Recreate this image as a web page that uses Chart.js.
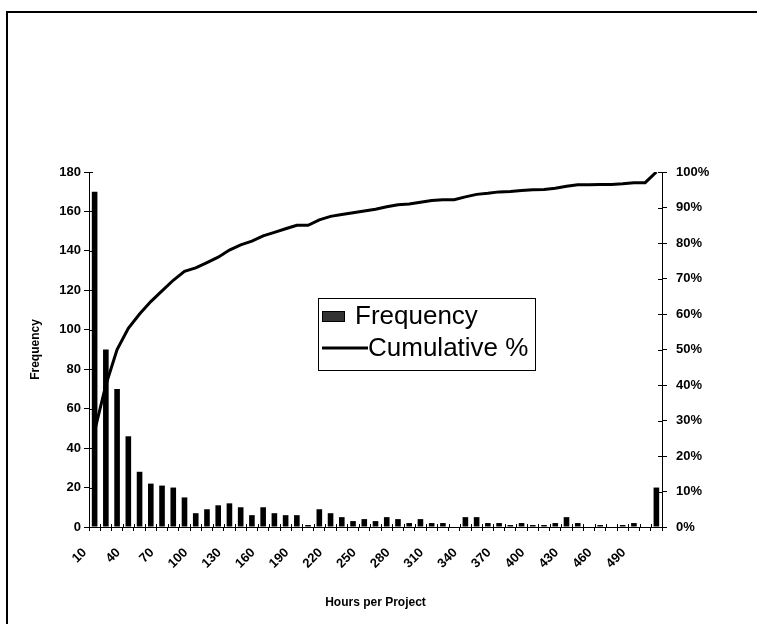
<!DOCTYPE html>
<html><head><meta charset="utf-8">
<script src="https://cdn.jsdelivr.net/npm/chart.js@4/dist/chart.umd.min.js"></script>
<style>
html,body{margin:0;padding:0;background:#fff;}
#wrap{position:relative;width:757px;height:624px;}
</style></head><body>
<div id="wrap"><canvas id="c"></canvas></div>
<script>
const categories = ['10','20','30','40','50','60','70','80','90','100','110','120','130','140','150','160','170','180','190','200','210','220','230','240','250','260','270','280','290','300','310','320','330','340','350','360','370','380','390','400','410','420','430','440','450','460','470','480','490','500','More'];
const frequency = [170,90,70,46,28,22,21,20,15,7,9,11,12,10,6,10,7,6,6,1,9,7,5,3,4,3,5,4,2,4,2,2,0,5,5,2,2,1,2,1,1,2,5,2,0,1,0,1,2,0,20];
const cumulativePct = [27,40,50,56,60,63.5,66.5,69.5,72,73,74.5,76,78,79.5,80.5,82,83,84,85,85,86.5,87.5,88,88.5,89,89.5,90.2,90.8,91,91.5,92,92.2,92.2,93,93.7,94,94.4,94.5,94.8,95,95.1,95.4,96,96.4,96.4,96.5,96.5,96.7,97,97,100];
const freqTicks = [0,20,40,60,80,100,120,140,160,180];
const pctTicks = [0,10,20,30,40,50,60,70,80,90,100];

const FONT = '"Liberation Sans", Arial, sans-serif';

const decor = {
  id: 'decor',
  beforeDraw(chart) {
    const ctx = chart.ctx;
    ctx.save();
    ctx.strokeStyle = '#000';
    ctx.lineWidth = 2;
    ctx.beginPath();
    ctx.moveTo(7, 624); ctx.lineTo(7, 12); ctx.lineTo(757, 12);
    ctx.stroke();
    ctx.restore();
  },
  afterDraw(chart) {
    const {ctx, chartArea, scales} = chart;
    ctx.save();
    ctx.strokeStyle = '#000';
    ctx.lineWidth = 1;
    scales.y.ticks.forEach((t, i) => {
      const py = Math.round(scales.y.getPixelForTick(i)) + 0.5;
      ctx.beginPath(); ctx.moveTo(chartArea.left, py); ctx.lineTo(chartArea.left + 4, py); ctx.stroke();
    });
    scales.y2.ticks.forEach((t, i) => {
      const py = Math.round(scales.y2.getPixelForTick(i)) + 0.5;
      ctx.beginPath(); ctx.moveTo(chartArea.right, py); ctx.lineTo(chartArea.right - 4, py); ctx.stroke();
    });
    for (let i = 0; i <= categories.length; i++) {
      const px = Math.round(scales.x.getPixelForValue(i - 0.5)) + 0.5;
      ctx.beginPath(); ctx.moveTo(px, chartArea.bottom); ctx.lineTo(px, chartArea.bottom - 3); ctx.stroke();
    }
    const ds = chart.data.datasets;
    ctx.fillStyle = '#fff';
    ctx.fillRect(318, 298, 217, 72);
    ctx.lineWidth = 1;
    ctx.strokeRect(318.5, 298.5, 217, 72);
    ctx.fillStyle = '#333';
    ctx.fillRect(322, 311, 23, 11);
    ctx.strokeRect(322.5, 311.5, 22, 10);
    ctx.fillStyle = '#000';
    ctx.font = '26px ' + FONT;
    ctx.textBaseline = 'middle';
    ctx.textAlign = 'left';
    ctx.fillText(ds[0].label, 355, 317);
    ctx.lineWidth = 3;
    ctx.beginPath(); ctx.moveTo(322, 348); ctx.lineTo(368, 348); ctx.stroke();
    ctx.fillText(ds[1].label, 368, 349);
    ctx.restore();
  }
};

new Chart(document.getElementById('c'), {
  data: {
    labels: categories,
    datasets: [
      { type: 'bar', label: 'Frequency', data: frequency, yAxisID: 'y', backgroundColor: '#000', borderWidth: 0,
        barPercentage: 0.5, categoryPercentage: 1.0, order: 2 },
      { type: 'line', label: 'Cumulative %', data: cumulativePct, yAxisID: 'y2', borderColor: '#000', borderWidth: 3,
        pointRadius: 0, tension: 0, fill: false, order: 1 }
    ]
  },
  options: {
    responsive: true,
    maintainAspectRatio: false,
    animation: false,
    layout: { padding: { top: 172, left: 0, right: 0, bottom: 0 } },
    plugins: { legend: { display: false }, tooltip: { enabled: false } },
    scales: {
      x: {
        grid: { display: true, drawOnChartArea: false, drawTicks: true, tickLength: 4, color: '#000', offset: true },
        border: { display: true, color: '#000', width: 1 },
        ticks: {
          autoSkip: false, maxRotation: 45, minRotation: 45, padding: 14, labelOffset: -10,
          color: '#000', font: { family: FONT, size: 13, weight: 'bold' },
          callback: (v, i) => (i % 3 === 0 && i < 49) ? categories[i] : ''
        },
        title: { display: true, text: 'Hours per Project', color: '#000', font: { family: FONT, size: 12, weight: 'bold' }, padding: { top: 0, bottom: 14 } },
        afterFit: s => { s.height = 97; }
      },
      y: {
        position: 'left', min: 0, max: 180,
        afterBuildTicks: s => { s.ticks = freqTicks.map(v => ({ value: v })); },
        grid: { display: true, drawOnChartArea: false, drawTicks: true, tickLength: 5, color: '#000' },
        border: { display: true, color: '#000', width: 1 },
        ticks: { padding: 3, color: '#000', font: { family: FONT, size: 13, weight: 'bold' } },
        title: { display: true, text: 'Frequency', color: '#000', font: { family: FONT, size: 12, weight: 'bold' }, padding: { top: 28, bottom: 0 } },
        afterFit: s => { s.width = 89; }
      },
      y2: {
        position: 'right', min: 0, max: 100,
        afterBuildTicks: s => { s.ticks = pctTicks.map(v => ({ value: v })); },
        grid: { display: true, drawOnChartArea: false, drawTicks: true, tickLength: 5, color: '#000' },
        border: { display: true, color: '#000', width: 1 },
        ticks: { padding: 9, color: '#000', font: { family: FONT, size: 13, weight: 'bold' }, callback: v => v + '%' },
        afterFit: s => { s.width = 95; }
      }
    }
  },
  plugins: [decor]
});
</script>
</body></html>
